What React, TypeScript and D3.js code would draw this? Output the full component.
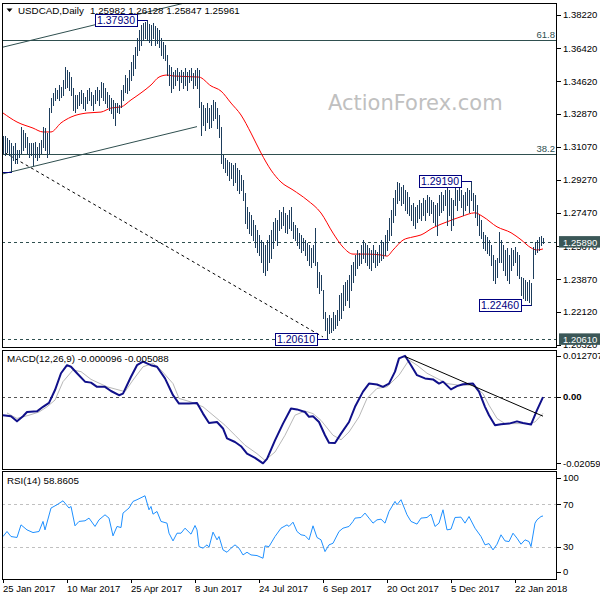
import React from "react";
import * as d3 from "d3";

// daily bars, 25 Jan 2017 .. 9 Feb 2018 (index = trading day)
const barHigh = [
  1.3165, 1.3165, 1.3154, 1.3143, 1.3127, 1.3111, 1.3127, 1.3089, 1.3089, 1.3214,
  1.3198, 1.3181, 1.316, 1.3127, 1.3127, 1.3127, 1.3133, 1.3105, 1.3127, 1.3143,
  1.3214, 1.3209, 1.3181, 1.3317, 1.3371, 1.3399, 1.3426, 1.3415, 1.3442, 1.3431,
  1.3469, 1.354, 1.3523, 1.3513, 1.3485, 1.3426, 1.3388, 1.3388, 1.3404, 1.3415,
  1.3399, 1.3377, 1.3415, 1.3426, 1.3404, 1.3388, 1.3415, 1.3431, 1.3415, 1.3458,
  1.3453, 1.3426, 1.3404, 1.3388, 1.3371, 1.3361, 1.3344, 1.3344, 1.3333, 1.3415,
  1.3442, 1.3496, 1.348, 1.3523, 1.3567, 1.3605, 1.3648, 1.3697, 1.3741, 1.3768,
  1.3779, 1.3784, 1.3793, 1.3773, 1.3768, 1.3779, 1.3762, 1.3751, 1.3741, 1.3697,
  1.3675, 1.3659, 1.3605, 1.3551, 1.354, 1.3513, 1.3523, 1.3534, 1.3513, 1.3523,
  1.3513, 1.3534, 1.3513, 1.3523, 1.3534, 1.3507, 1.3523, 1.3534, 1.3523, 1.335,
  1.3333, 1.3317, 1.3344, 1.3317, 1.3333, 1.3361, 1.335, 1.3317, 1.3279, 1.3214,
  1.3062, 1.3046, 1.3035, 1.3024, 1.3018, 1.3008, 1.3018, 1.2991, 1.298, 1.2953,
  1.2926, 1.2856, 1.2779, 1.2752, 1.2736, 1.2709, 1.2682, 1.2655, 1.2628, 1.26,
  1.2589, 1.2573, 1.26, 1.2628, 1.2655, 1.2698, 1.272, 1.2709, 1.2763, 1.2752,
  1.2779, 1.2747, 1.2736, 1.2763, 1.2779, 1.2698, 1.2682, 1.2665, 1.2638, 1.2628,
  1.2611, 1.26, 1.2584, 1.2573, 1.2557, 1.2573, 1.2665, 1.2481, 1.2427, 1.241,
  1.2329, 1.2209, 1.2177, 1.2193, 1.2177, 1.2209, 1.2193, 1.222, 1.2302, 1.2313,
  1.2356, 1.2372, 1.2383, 1.241, 1.2465, 1.2481, 1.2519, 1.2546, 1.253, 1.2573,
  1.26, 1.2584, 1.2573, 1.2557, 1.2546, 1.2573, 1.2546, 1.2535, 1.2573, 1.26,
  1.2589, 1.2628, 1.2655, 1.272, 1.2763, 1.2828, 1.2872, 1.2915, 1.291, 1.2888,
  1.2899, 1.2872, 1.2861, 1.2834, 1.279, 1.2801, 1.2779, 1.279, 1.2818, 1.2801,
  1.2828, 1.2818, 1.2845, 1.2834, 1.2818, 1.2807, 1.279, 1.2801, 1.2845, 1.2861,
  1.2845, 1.2872, 1.2915, 1.2872, 1.2828, 1.2818, 1.2883, 1.2872, 1.2894, 1.2872,
  1.2845, 1.2861, 1.2883, 1.2872, 1.2919, 1.2856, 1.2845, 1.279, 1.2736, 1.2709,
  1.2644, 1.2628, 1.2617, 1.26, 1.2573, 1.2519, 1.2492, 1.2503, 1.2644, 1.26,
  1.2573, 1.2546, 1.2557, 1.2519, 1.2557, 1.2546, 1.2562, 1.2535, 1.2519, 1.2399,
  1.2394, 1.2383, 1.2372, 1.2383, 1.2367, 1.2562, 1.2589, 1.26, 1.2617, 1.2622, 1.2613,
];
const barLow = [
  1.3073, 1.3062, 1.3078, 1.3062, 1.297, 1.3035, 1.3018, 1.3018, 1.3051, 1.3073,
  1.3089, 1.3105, 1.3073, 1.3051, 1.3062, 1.3008, 1.3051, 1.3035, 1.3051, 1.3073,
  1.3105, 1.3089, 1.3051, 1.3073, 1.3295, 1.3333, 1.3361, 1.3371, 1.3361, 1.3377,
  1.3388, 1.3426, 1.3431, 1.3415, 1.3388, 1.3306, 1.3295, 1.3317, 1.3333, 1.3344,
  1.3317, 1.3306, 1.3344, 1.3361, 1.3333, 1.3306, 1.3344, 1.3361, 1.3333, 1.3377,
  1.3361, 1.3344, 1.3323, 1.3306, 1.329, 1.3263, 1.3225, 1.3295, 1.329, 1.3323,
  1.3361, 1.3404, 1.3399, 1.3415, 1.3469, 1.3496, 1.3534, 1.3605, 1.3632, 1.3659,
  1.3686, 1.3697, 1.3686, 1.3675, 1.3659, 1.3697, 1.3659, 1.367, 1.3648, 1.3605,
  1.3589, 1.3578, 1.3496, 1.3442, 1.3404, 1.3426, 1.3442, 1.3469, 1.3415, 1.3458,
  1.3426, 1.3442, 1.3415, 1.3458, 1.3469, 1.3426, 1.3442, 1.3426, 1.3323, 1.3171,
  1.3225, 1.3198, 1.3241, 1.3209, 1.3214, 1.3252, 1.3263, 1.3209, 1.316, 1.3018,
  1.2991, 1.297, 1.2953, 1.2926, 1.2937, 1.2899, 1.2915, 1.2872, 1.2856, 1.2872,
  1.2818, 1.2693, 1.2665, 1.2638, 1.2628, 1.26, 1.2562, 1.2535, 1.2519, 1.2481,
  1.2427, 1.241, 1.2437, 1.2481, 1.2503, 1.2557, 1.26, 1.2573, 1.2655, 1.2665,
  1.2682, 1.2644, 1.2638, 1.2665, 1.2655, 1.2611, 1.26, 1.2573, 1.2557, 1.2535,
  1.2546, 1.2519, 1.2492, 1.2465, 1.2454, 1.2481, 1.2465, 1.2345, 1.2313, 1.2329,
  1.2177, 1.2112, 1.2061, 1.2095, 1.2101, 1.2112, 1.2123, 1.2139, 1.2166, 1.2177,
  1.222, 1.2248, 1.2275, 1.2237, 1.2329, 1.2372, 1.241, 1.2448, 1.2465, 1.2475,
  1.2503, 1.2481, 1.2465, 1.2448, 1.2437, 1.2481, 1.2454, 1.2465, 1.2481, 1.2492,
  1.2503, 1.2519, 1.2546, 1.26, 1.2628, 1.2698, 1.2736, 1.2801, 1.2818, 1.279,
  1.2801, 1.2763, 1.2747, 1.2736, 1.2709, 1.2682, 1.2665, 1.2698, 1.272, 1.2709,
  1.2736, 1.2709, 1.2752, 1.2736, 1.2747, 1.2698, 1.2682, 1.2628, 1.2736, 1.2752,
  1.2763, 1.279, 1.2682, 1.2736, 1.2655, 1.2682, 1.279, 1.2763, 1.2818, 1.2779,
  1.2736, 1.2763, 1.279, 1.2752, 1.2818, 1.2763, 1.2725, 1.2682, 1.2628, 1.2611,
  1.2557, 1.2546, 1.253, 1.2519, 1.2465, 1.2383, 1.2367, 1.2399, 1.2481, 1.2481,
  1.2437, 1.241, 1.2383, 1.2367, 1.2437, 1.2465, 1.2481, 1.241, 1.2394, 1.2302,
  1.2285, 1.2275, 1.2275, 1.2264, 1.2246, 1.2394, 1.2525, 1.2535, 1.2546, 1.2573, 1.2585,
];

// red moving average, sampled along the bars
const maBars = [0, 7, 15, 20, 24, 29, 34, 42, 49, 54, 59, 64, 69, 74, 78, 82, 85, 98, 104, 109, 114, 119, 124, 129, 134, 139, 145, 152, 159, 165, 170, 175, 182, 189, 192, 195, 200, 205, 209, 215, 222, 229, 236, 240, 247, 254, 259, 264, 267, 270];
const maValues = [1.329, 1.3241, 1.3208, 1.3187, 1.3187, 1.3236, 1.3268, 1.329, 1.3295, 1.3317, 1.3323, 1.3361, 1.3399, 1.3442, 1.3485, 1.3496, 1.3491, 1.3485, 1.3437, 1.3409, 1.3344, 1.3279, 1.3181, 1.3073, 1.298, 1.2915, 1.2872, 1.2818, 1.2747, 1.2638, 1.2562, 1.2524, 1.2524, 1.2519, 1.2513, 1.2546, 1.26, 1.2617, 1.2628, 1.2667, 1.2699, 1.2727, 1.2748, 1.2727, 1.2672, 1.264, 1.2602, 1.2558, 1.2546, 1.2552];

const macdBars = [0, 4, 7, 10, 12, 17, 20, 23, 26, 29, 32, 34, 37, 41, 44, 47, 51, 54, 58, 60, 64, 67, 70, 74, 77, 81, 85, 88, 93, 97, 100, 103, 107, 110, 112, 116, 119, 122, 126, 130, 132, 136, 140, 144, 147, 151, 153, 155, 158, 161, 163, 166, 169, 173, 176, 180, 183, 187, 190, 193, 196, 198, 201, 204, 207, 211, 215, 218, 220, 224, 227, 230, 235, 238, 241, 243, 246, 249, 253, 257, 260, 264, 267, 270];
const macdValues = [-0.0057, -0.006, -0.0076, -0.006, -0.0047, -0.0045, -0.0031, -0.0019, 0.0021, 0.0073, 0.0098, 0.0093, 0.0073, 0.0047, 0.0044, 0.0031, 0.0031, 0.0018, 0.0005, 0.001, 0.0062, 0.0098, 0.0109, 0.0098, 0.0093, 0.0057, 0.0005, -0.0021, -0.0021, -0.0019, -0.0052, -0.0081, -0.0078, -0.0098, -0.0129, -0.014, -0.0153, -0.0176, -0.0189, -0.0206, -0.0192, -0.0135, -0.0083, -0.0036, -0.0039, -0.0047, -0.0062, -0.006, -0.0078, -0.0119, -0.0142, -0.0143, -0.0114, -0.0078, -0.0031, 0.0016, 0.0041, 0.0038, 0.0031, 0.0041, 0.0078, 0.0119, 0.0127, 0.0098, 0.0067, 0.0057, 0.0054, 0.0041, 0.0047, 0.0023, 0.0033, 0.0039, 0.0041, 0.0016, -0.0031, -0.0057, -0.0088, -0.0085, -0.0083, -0.0076, -0.0081, -0.0086, -0.0041, -0.0001];
const signalBars = [2, 7, 13, 18, 22, 26, 30, 35, 39, 44, 52, 58, 61, 65, 70, 75, 79, 85, 88, 94, 100, 106, 111, 116, 121, 127, 131, 136, 141, 146, 151, 155, 159, 165, 169, 173, 178, 182, 187, 192, 198, 203, 207, 212, 217, 222, 228, 235, 240, 243, 247, 251, 257, 263, 266, 270];
const signalValues = [-0.005, -0.0067, -0.0057, -0.0047, -0.0031, -0.001, 0.0047, 0.0083, 0.0078, 0.0054, 0.0031, 0.0021, 0.0016, 0.0052, 0.0093, 0.0104, 0.0083, 0.0041, -0.0005, -0.0016, -0.0031, -0.0062, -0.0088, -0.0119, -0.015, -0.0176, -0.0197, -0.0171, -0.0119, -0.0057, -0.0044, -0.0052, -0.0073, -0.0119, -0.0133, -0.0109, -0.0062, -0.0005, 0.0026, 0.0031, 0.0067, 0.0114, 0.0098, 0.0073, 0.0057, 0.0041, 0.0036, 0.0036, 0.001, -0.0026, -0.0067, -0.0083, -0.0083, -0.0083, -0.0078, -0.0051];

const rsiBars = [0, 2, 4, 7, 9, 12, 15, 18, 20, 21, 24, 27, 30, 33, 34, 36, 38, 41, 43, 46, 48, 51, 53, 55, 57, 59, 60, 63, 65, 67, 71, 73, 74, 75, 77, 79, 82, 83, 85, 87, 89, 91, 94, 96, 97, 98, 100, 102, 103, 105, 107, 108, 110, 112, 114, 116, 118, 120, 122, 124, 127, 130, 131, 133, 136, 139, 142, 143, 145, 147, 149, 151, 153, 155, 157, 159, 161, 163, 165, 168, 170, 173, 175, 176, 179, 181, 183, 185, 187, 189, 191, 193, 196, 197, 199, 201, 202, 204, 207, 209, 212, 214, 216, 218, 220, 222, 224, 226, 229, 231, 233, 236, 239, 241, 243, 245, 247, 249, 251, 253, 255, 257, 259, 261, 263, 264, 266, 267, 269, 270];
const rsiValues = [39.7, 44.4, 39.7, 38.8, 50.6, 45.9, 43.4, 44.4, 53.8, 45.9, 66.3, 69.4, 73.1, 66.3, 67.8, 49.7, 53.8, 54.4, 56.9, 49.1, 55.3, 60.0, 56.9, 40.3, 49.1, 48.1, 61.6, 66.3, 72.5, 74.1, 77.8, 64.7, 67.8, 60.6, 63.1, 53.8, 52.2, 42.8, 35.6, 42.8, 42.8, 47.5, 41.9, 50.0, 45.9, 30.3, 28.8, 31.9, 29.7, 43.8, 36.6, 39.7, 27.2, 25.0, 28.8, 31.9, 28.8, 22.5, 25.0, 22.5, 21.9, 19.4, 30.9, 30.3, 39.7, 47.5, 50.6, 49.1, 53.1, 44.4, 41.3, 40.6, 36.6, 49.7, 38.8, 36.6, 25.6, 31.9, 33.4, 44.4, 47.5, 49.1, 53.8, 56.9, 57.5, 61.6, 56.9, 52.2, 55.3, 55.9, 52.2, 63.1, 72.5, 69.4, 74.1, 64.7, 60.0, 53.8, 51.3, 56.9, 57.5, 60.6, 49.1, 52.2, 64.7, 45.9, 46.6, 57.5, 57.8, 52.2, 58.4, 47.5, 39.7, 31.9, 33.1, 27.2, 32.5, 41.3, 35.6, 35.0, 42.8, 38.1, 32.5, 36.6, 35.0, 30.3, 52.2, 55.3, 58.4, 58.9];

// annotations
const swingBars = [4, 72, 162, 234, 264];
const swingValues = [1.297, 1.3793, 1.2061, 1.2919, 1.2246];
const fibLabels = ["61.8", "38.2"];
const fibValues = [1.3686, 1.3065];
const priceLineValues = [1.2589, 1.2061];
const channelUpper: [number, number][] = [[-1, 1.3645], [90, 1.3885]];
const channelLower: [number, number][] = [[-1, 1.2957], [97, 1.3216]];
const dashedTrend: [number, number][] = [[1, 1.3074], [160, 1.2074]];
const macdTrend: [number, number][] = [[201, 0.0125], [270, -0.006]];

const priceTicks = [1.3822, 1.3642, 1.3462, 1.3287, 1.3107, 1.2927, 1.2747, 1.2567, 1.2387, 1.2212, 1.2032];
const macdTicks = [0.012707, 0, -0.020595];
const macdTickLabels = ["0.012707", "0.00", "-0.020595"];
const rsiTicks = [100, 70, 30, 0];
const dateBars = [0, 32, 64, 96, 128, 160, 192, 224, 256];
const dateLabels = ["25 Jan 2017", "10 Mar 2017", "25 Apr 2017", "8 Jun 2017", "24 Jul 2017", "6 Sep 2017", "20 Oct 2017", "5 Dec 2017", "22 Jan 2018"];

const FONT = "'Liberation Sans', Arial, sans-serif";
const L = 2;
const R = 557;
const mainP = { top: 3, bottom: 347 };
const macdP = { top: 350, bottom: 469 };
const rsiP = { top: 471, bottom: 579 };

const x = d3.scaleLinear().domain([0, 270]).range([3, 543]);
const yMain = d3.scaleLinear().domain([1.2032, 1.3822]).range([344.7, 15]);
const yMacd = d3.scaleLinear().domain([-0.020595, 0.012707]).range([463.3, 355.8]);
const yRsi = d3.scaleLinear().domain([0, 100]).range([579, 472]);

const px = (v: number) => Math.round(v) + 0.5;
const zip = (a: number[], b: number[]) => a.map((v, i) => [v, b[i]] as [number, number]);

const mainLine = d3.line<[number, number]>().x((d) => x(d[0])).y((d) => yMain(d[1]));
const maLine = d3.line<[number, number]>().x((d) => x(d[0])).y((d) => yMain(d[1])).curve(d3.curveMonotoneX);
const macdLine = d3.line<[number, number]>().x((d) => x(d[0])).y((d) => yMacd(d[1]));
const rsiLine = d3.line<[number, number]>().x((d) => x(d[0])).y((d) => yRsi(d[1]));

const SLATE = "#2f4f4f";
const NAVY = "#000080";

export default function App() {
  return (
    <svg
      width={600}
      height={600}
      style={{ position: "absolute", left: 0, top: 0, background: "#fff" }}
      fontFamily={FONT}
    >
      <defs>
        <clipPath id="clipMain">
          <rect x={L} y={mainP.top} width={R - L} height={mainP.bottom - mainP.top} />
        </clipPath>
        <clipPath id="clipMacd">
          <rect x={L} y={macdP.top} width={R - L} height={macdP.bottom - macdP.top} />
        </clipPath>
        <clipPath id="clipRsi">
          <rect x={L} y={rsiP.top} width={R - L} height={rsiP.bottom - rsiP.top} />
        </clipPath>
      </defs>
      <rect width={600} height={600} fill="#fff" />

      {/* main price panel */}
      <g clipPath="url(#clipMain)">
        <text x={328} y={110} fontFamily="'DejaVu Sans', sans-serif" fontSize={21} fill="#c0c0c0">
          ActionForex.com
        </text>
        {fibValues.map((v, i) => (
          <g key={"fib" + i}>
            <line x1={L} x2={R} y1={px(yMain(v))} y2={px(yMain(v))} stroke={SLATE} />
            <text x={R - 2} y={yMain(v) - 2.5} textAnchor="end" fontSize={9.5} fill={SLATE}>
              {fibLabels[i]}
            </text>
          </g>
        ))}
        {priceLineValues.map((v, i) => (
          <line key={"pl" + i} x1={L} x2={R} y1={px(yMain(v))} y2={px(yMain(v))} stroke={SLATE} strokeDasharray="3,3" />
        ))}
        <path d={mainLine(channelUpper) ?? ""} stroke={SLATE} fill="none" />
        <path d={mainLine(channelLower) ?? ""} stroke={SLATE} fill="none" />
        <path d={mainLine(dashedTrend) ?? ""} stroke="#000" strokeDasharray="3,3" fill="none" />
        <path d={maLine(zip(maBars, maValues)) ?? ""} stroke="#ff0000" fill="none" />
        {barHigh.map((h, i) => (
          <line
            key={"b" + i}
            x1={px(x(i))}
            x2={px(x(i))}
            y1={Math.round(yMain(h))}
            y2={Math.round(yMain(barLow[i])) + 1}
            stroke="#1d3d5c"
          />
        ))}
        {swingBars.map((b, i) => {
          const yy = px(yMain(swingValues[i]));
          const right = Math.round(x(b)) - 10;
          return (
            <g key={"sw" + i}>
              <line x1={right} x2={px(x(b))} y1={yy} y2={yy} stroke={NAVY} />
              <rect x={right - 42 + 0.5} y={yy - 6} width={42} height={12} fill="#fff" stroke={NAVY} />
              <text x={right - 21} y={yy + 3.8} textAnchor="middle" fontSize={10.5} fill={NAVY}>
                {swingValues[i].toFixed(5)}
              </text>
            </g>
          );
        })}
        <path d="M6.5,8.5 L12.5,8.5 L9.5,12 Z" fill="#000" />
        <text x={18} y={14} fontSize={9.8} fill="#000">
          USDCAD,Daily
          <tspan x={90}>1.25982 1.26128 1.25847 1.25961</tspan>
        </text>
      </g>
      <rect x={L + 0.5} y={mainP.top + 0.5} width={R - L - 1} height={mainP.bottom - mainP.top} fill="none" stroke="#000" />

      {/* price axis */}
      {priceTicks.map((v, i) => (
        <g key={"pt" + i}>
          <line x1={R} x2={R + 4} y1={px(yMain(v))} y2={px(yMain(v))} stroke="#000" />
          <text x={563} y={yMain(v) + 3.4} fontSize={9.5} fill="#000">
            {v.toFixed(5)}
          </text>
        </g>
      ))}
      {priceLineValues.map((v, i) => (
        <g key={"pb" + i}>
          <rect x={559} y={yMain(v) - 6} width={41} height={11.5} fill="#3b5757" />
          <text x={563} y={yMain(v) + 3.4} fontSize={9.5} fill="#fff">
            {v.toFixed(5)}
          </text>
        </g>
      ))}

      {/* MACD panel */}
      <g clipPath="url(#clipMacd)">
        <line x1={L} x2={R} y1={px(yMacd(0))} y2={px(yMacd(0))} stroke="#555" strokeDasharray="3,3" />
        <path d={macdLine(zip(signalBars, signalValues)) ?? ""} stroke="#b8b8b8" fill="none" />
        <path d={macdLine(zip(macdBars, macdValues)) ?? ""} stroke="#10108a" strokeWidth={2} fill="none" strokeLinejoin="round" />
        <path d={macdLine(macdTrend) ?? ""} stroke="#000" fill="none" />
        <text x={7} y={362} fontSize={9.8} fill="#000">
          MACD(12,26,9) -0.000096 -0.005088
        </text>
      </g>
      <rect x={L + 0.5} y={macdP.top + 0.5} width={R - L - 1} height={macdP.bottom - macdP.top} fill="none" stroke="#000" />
      {macdTicks.map((v, i) => (
        <g key={"mt" + i}>
          <line x1={R} x2={R + 4} y1={px(yMacd(v))} y2={px(yMacd(v))} stroke="#000" />
          <text x={563} y={yMacd(v) + 3.4} fontSize={9.5} fontWeight={v === 0 ? "bold" : "normal"} fill="#000">
            {macdTickLabels[i]}
          </text>
        </g>
      ))}

      {/* RSI panel */}
      <g clipPath="url(#clipRsi)">
        {[70, 30].map((v) => (
          <line key={"rl" + v} x1={L} x2={R} y1={px(yRsi(v))} y2={px(yRsi(v))} stroke="#c0c0c0" strokeDasharray="3,3" />
        ))}
        <path d={rsiLine(zip(rsiBars, rsiValues)) ?? ""} stroke="#1e90ff" fill="none" />
        <text x={7} y={484} fontSize={9.8} fill="#000">
          RSI(14) 58.8605
        </text>
      </g>
      <rect x={L + 0.5} y={rsiP.top + 0.5} width={R - L - 1} height={rsiP.bottom - rsiP.top} fill="none" stroke="#000" />
      {rsiTicks.map((v) => {
        const yy = Math.min(Math.max(yRsi(v), 478), 572);
        return (
          <g key={"rt" + v}>
            <line x1={R} x2={R + 4} y1={px(yy)} y2={px(yy)} stroke="#000" />
            <text x={563} y={yy + 3.4} fontSize={9.5} fill="#000">
              {v}
            </text>
          </g>
        );
      })}

      {/* date axis */}
      {dateBars.map((b, i) => (
        <g key={"d" + i}>
          <line x1={px(x(b))} x2={px(x(b))} y1={rsiP.bottom} y2={rsiP.bottom + 4} stroke="#000" />
          <text x={x(b)} y={592} fontSize={9.5} fill="#000">
            {dateLabels[i]}
          </text>
        </g>
      ))}
    </svg>
  );
}
